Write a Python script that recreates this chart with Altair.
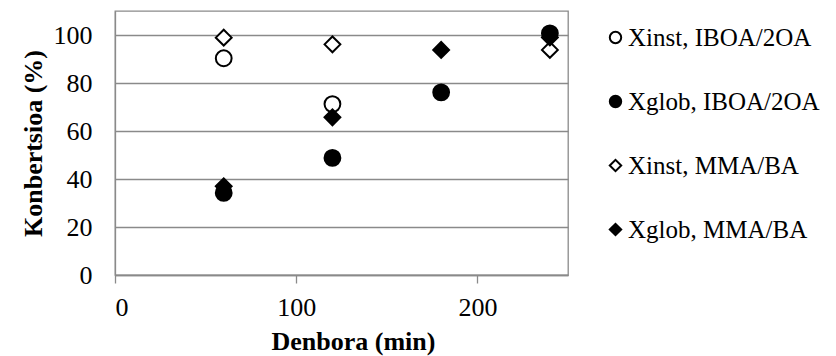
import altair as alt
import pandas as pd

time_min = [60, 120, 180, 240]
xinst_iboa = [90.3, 71.2, None, None]
xglob_iboa = [34.2, 48.8, 76.1, 100.7]
xinst_mma = [98.9, 96.1, None, 93.8]
xglob_mma = [37.0, 65.7, 93.8, 99.0]
series_names = ["Xinst, IBOA/2OA", "Xglob, IBOA/2OA", "Xinst, MMA/BA", "Xglob, MMA/BA"]
series_values = [xinst_iboa, xglob_iboa, xinst_mma, xglob_mma]
x_ticks = [0, 100, 200]
y_ticks = [0, 20, 40, 60, 80, 100]

rows = []
for name, vals in zip(series_names, series_values):
    for t, v in zip(time_min, vals):
        if v is not None:
            rows.append({"t": t, "v": v, "s": name})
df = pd.DataFrame(rows)
df["o"] = df["s"].map({n: i for i, n in enumerate(series_names)})

FONT = "'Liberation Serif', 'Times New Roman', Times, serif"
GRID = "#8a8a8a"

legend = alt.Legend(
    title=None, orient="none", legendX=488, legendY=14, padding=0,
    labelFont=FONT, labelFontSize=25, labelColor="black", labelOffset=0,
    labelLimit=0, rowPadding=38, symbolSize=130, symbolStrokeWidth=2,
)

chart = alt.Chart(df).mark_point(
    size=250, strokeWidth=2, opacity=1, filled=False
).encode(
    x=alt.X("t:Q", title="Denbora (min)",
            scale=alt.Scale(domain=[0, 250], nice=False, zero=False),
            axis=alt.Axis(values=x_ticks, grid=False, tickSize=8, tickColor=GRID,
                          domainColor=GRID, labelPadding=11, titlePadding=8,
                          titleX=238)),
    y=alt.Y("v:Q", title="Konbertsioa (%)",
            scale=alt.Scale(domain=[0, 110], nice=False),
            axis=alt.Axis(values=y_ticks, grid=True, gridColor=GRID, ticks=False,
                          domainColor=GRID, labelPadding=23, titlePadding=7)),
    shape=alt.Shape("s:N", title=None,
                    scale=alt.Scale(domain=series_names,
                                    range=["circle", "circle", "diamond", "diamond"]),
                    legend=legend),
    fill=alt.Fill("s:N", title=None,
                  scale=alt.Scale(domain=series_names,
                                  range=["white", "black", "white", "black"]),
                  legend=legend),
    stroke=alt.Stroke("s:N", title=None,
                      scale=alt.Scale(domain=series_names,
                                      range=["black", "black", "black", "black"]),
                      legend=legend),
    order=alt.Order("o:Q"),
).properties(
    width=453, height=264,
    autosize=alt.AutoSizeParams(type="none"),
    padding={"left": 107, "top": 3, "right": 260, "bottom": 81},
).configure_view(
    stroke=GRID, strokeWidth=1.3
).configure_axis(
    labelFont=FONT, labelFontSize=26, labelColor="black",
    titleFont=FONT, titleFontSize=26, titleFontWeight="bold", titleColor="black",
    gridWidth=1.3, domainWidth=1.3, tickWidth=1.3,
)

chart.save("out.html", embed_options={"renderer": "svg", "actions": False})
